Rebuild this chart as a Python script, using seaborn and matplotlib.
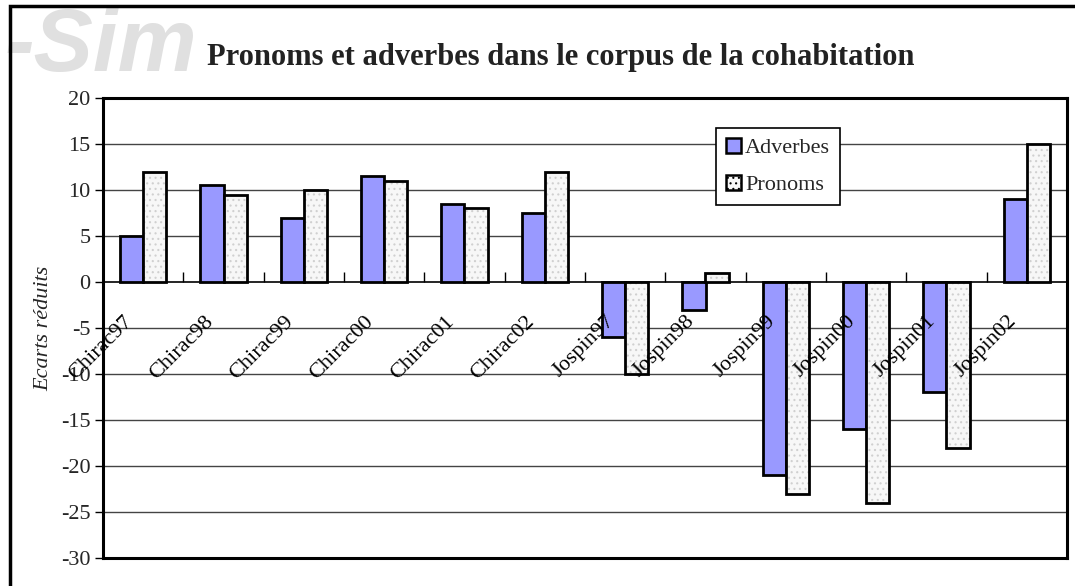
import matplotlib
matplotlib.use("Agg")
import matplotlib.pyplot as plt
import seaborn as sns
import pandas as pd
from matplotlib.patches import Patch, Rectangle

categories = ["Chirac97", "Chirac98", "Chirac99", "Chirac00", "Chirac01", "Chirac02",
              "Jospin97", "Jospin98", "Jospin99", "Jospin00", "Jospin01", "Jospin02"]
adverbes = [5, 10.5, 7, 11.5, 8.5, 7.5, -6, -3, -21, -16, -12, 9]
pronoms = [12, 9.5, 10, 11, 8, 12, -10, 1, -23, -24, -18, 15]
series = ["Adverbes", "Pronoms"]
yticks = [-30, -25, -20, -15, -10, -5, 0, 5, 10, 15, 20]
title = "Pronoms et adverbes dans le corpus de la cohabitation"
ylabel = "Ecarts réduits"

df = pd.DataFrame({
    "cat": categories * 2,
    "serie": [series[0]] * len(categories) + [series[1]] * len(categories),
    "val": adverbes + pronoms,
})

sns.set_theme(style="white")
plt.rcParams["font.family"] = ["Liberation Serif", "DejaVu Serif"]
plt.rcParams["hatch.linewidth"] = 0.8

fig = plt.figure(figsize=(10.75, 5.86), dpi=100)
ax = fig.add_axes([103 / 1075, (586 - 558) / 586, (1067 - 103) / 1075, (558 - 98) / 586])

colors = {"Adverbes": "#9999FF", "Pronoms": "#F7F7F7"}
sns.barplot(data=df, x="cat", y="val", hue="serie", palette=colors, ax=ax,
            width=0.58, edgecolor="black", linewidth=2.0, legend=False,
            order=categories, hue_order=series, saturation=1)

# dotted light fill for Pronoms: light hatch, black outline drawn on top
for bar in ax.containers[1]:
    bar.set_hatch("...")
    bar.set_edgecolor("#d0d0d0")
    bar.set_linewidth(0)
    ax.add_patch(Rectangle(bar.get_xy(), bar.get_width(), bar.get_height(),
                           fill=False, edgecolor="black", linewidth=2.0, zorder=bar.get_zorder() + 0.1))

ax.set_ylim(-30, 20)
ax.set_xlim(-0.5, len(categories) - 0.5)
ax.set_yticks(yticks)
ax.set_yticklabels([str(t) for t in yticks], fontsize=16)
ax.tick_params(axis="y", direction="out", length=6, width=1, color="black", pad=3, left=True)
ax.set_xticks([])
ax.set_xlabel("")
ax.set_ylabel(ylabel, fontsize=16, style="italic")
ax.yaxis.set_label_coords(-0.052, 0.5)

for t in yticks:
    ax.axhline(t, color="black" if t == 0 else "#444444",
               linewidth=1.2 if t == 0 else 1.0, zorder=0.5)

for s in ax.spines.values():
    s.set_color("black")
    s.set_linewidth(2.2)
    s.set_visible(True)

# category tick marks along the zero line
sec = ax.secondary_xaxis(30 / 50)
sec.set_xticks([i + 0.5 for i in range(len(categories) - 1)])
sec.set_xticklabels([])
sec.tick_params(direction="out", length=7, width=1, color="black")
sec.spines["bottom"].set_visible(False)
sec.spines["top"].set_visible(False)

for i, c in enumerate(categories):
    ax.annotate(c, xy=(i, 0), xytext=(-20, -30), textcoords="offset pixels",
                rotation=45, ha="right", va="top", rotation_mode="anchor",
                fontsize=16, color="black", zorder=5)

handles = [Patch(facecolor=colors[s], edgecolor="black", linewidth=1.8,
                 hatch=("..." if s == "Pronoms" else None)) for s in series]
leg = ax.legend(handles, series, loc="upper left", bbox_to_anchor=(0.636, 0.935),
                fontsize=16, frameon=True, fancybox=False, handlelength=0.65,
                handleheight=0.65, handletextpad=0.2, borderpad=0.45,
                labelspacing=0.75, borderaxespad=0)
leg.get_frame().set_edgecolor("black")
leg.get_frame().set_linewidth(1.2)
leg.get_frame().set_alpha(1)

fig.text(561 / 1075, 1 - 58 / 586, title, ha="center", va="center",
         fontsize=22, fontweight="bold", color="#222222")

# light watermark in the top-left corner
fig.text(0.004, 1 - 48 / 586, "-Sim", ha="left", va="center", fontsize=64,
         fontweight="bold", style="italic", color="#e0e0e0",
         family="Liberation Sans", zorder=0)

fig.patches.append(Rectangle((10 / 1075, -0.1), 1.2, (1 - 6 / 586) + 0.1,
                             transform=fig.transFigure, fill=False,
                             edgecolor="black", linewidth=2.5, zorder=10))

fig.savefig("out.png", dpi=100)
